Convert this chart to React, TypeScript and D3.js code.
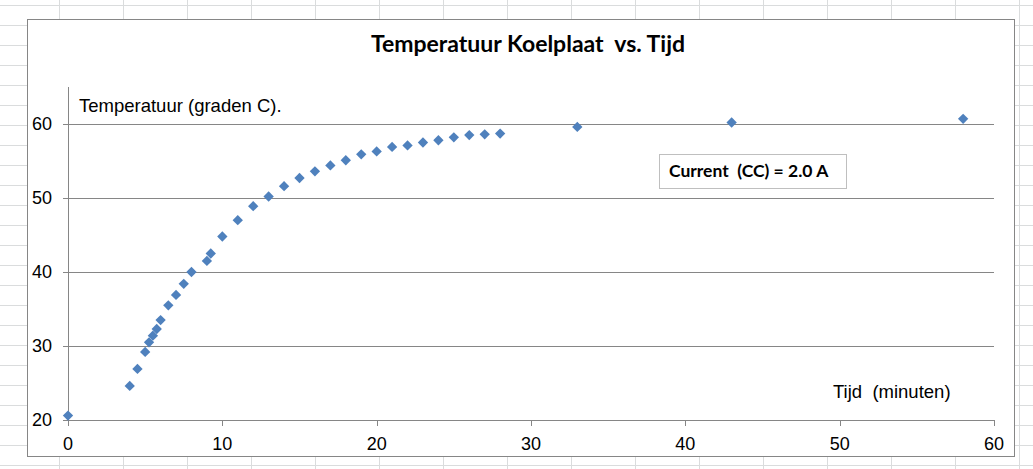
import * as React from "react";
import * as d3 from "d3";

// meetpunten: tijd (minuten) en temperatuur (graden C)
const tijd = [0, 4, 4.5, 5, 5.25, 5.5, 5.75, 6, 6.5, 7, 7.5, 8, 9, 9.25, 10,
    11, 12, 13, 14, 15, 16, 17, 18, 19, 20, 21, 22, 23, 24, 25, 26, 27, 28,
    33, 43, 58];
const temperatuur = [20.6, 24.6, 26.9, 29.2, 30.5, 31.4, 32.3, 33.5, 35.5, 36.9, 38.4, 40.0, 41.5, 42.5, 44.8,
    47.0, 48.9, 50.2, 51.6, 52.7, 53.6, 54.4, 55.1, 55.9, 56.3, 56.9, 57.1, 57.5, 57.8, 58.2, 58.5, 58.6, 58.7,
    59.6, 60.2, 60.7];
const xTicks = [0, 10, 20, 30, 40, 50, 60];
const yTicks = [20, 30, 40, 50, 60];

const title = "Temperatuur Koelplaat\u00a0 vs. Tijd";
const yTitle = "Temperatuur (graden C).";
const xTitle = "Tijd\u00a0 (minuten)";
const note = "Current\u00a0 (CC) = 2.0 A";

const W = 1033, H = 469;
const frame = { x0: 27.5, y0: 19.5, x1: 1014.5, y1: 456.5 };
const plot = { left: 68, right: 994, top: 87, bottom: 420 };

const axisColor = "#868686";
const markerColor = "#4f81bd";
const sheetGrid = "#dadcdd";

class App extends React.Component<{}, {}> {
    render() {
        const x = d3.scaleLinear().domain([0, 60]).range([plot.left, plot.right]);
        const y = d3.scaleLinear().domain([20, 65]).range([plot.bottom, plot.top]);
        const diamond = d3.symbol().type(d3.symbolDiamond2).size(68)();
        const points = tijd.map((t, i) => ({ t, v: temperatuur[i] }));

        // achtergrond: rasterlijnen van het werkblad
        const cols = d3.range(59.5, W, 64);
        const rows = d3.range(5.5, H, 20);

        return (
            <svg width={W} height={H} style={{ position: "absolute", left: 0, top: 0, background: "#fff" }}>
                <g stroke={sheetGrid} strokeWidth={1}>
                    {cols.map(c => <line key={"c" + c} x1={c} x2={c} y1={0} y2={H} />)}
                    {rows.map(r => <line key={"r" + r} x1={0} x2={W} y1={r} y2={r} />)}
                </g>
                <rect x={frame.x0} y={frame.y0} width={frame.x1 - frame.x0} height={frame.y1 - frame.y0}
                    fill="#fff" stroke={axisColor} strokeWidth={1} />

                <text x={528} y={52} textAnchor="middle" fontFamily="Lato" fontWeight="bold" fontSize={23} fill="#000">{title}</text>

                {/* y raster + ticks */}
                <g stroke={axisColor} strokeWidth={1}>
                    {yTicks.map(v => (
                        <line key={v} x1={plot.left - 5} x2={plot.right} y1={Math.round(y(v)) + 0.5} y2={Math.round(y(v)) + 0.5} />
                    ))}
                    <line x1={plot.left + 0.5} x2={plot.left + 0.5} y1={plot.top} y2={plot.bottom + 5} />
                    {xTicks.map(v => (
                        <line key={v} x1={Math.round(x(v)) + 0.5} x2={Math.round(x(v)) + 0.5} y1={plot.bottom} y2={plot.bottom + 6} />
                    ))}
                </g>
                <g fontFamily="Liberation Sans, Arial" fontSize={18} fill="#000">
                    {yTicks.map(v => (
                        <text key={v} x={52} y={y(v)} dy="0.35em" textAnchor="end">{v}</text>
                    ))}
                    {xTicks.map(v => (
                        <text key={v} x={x(v)} y={450} textAnchor="middle">{v}</text>
                    ))}
                </g>
                <g fontFamily="Liberation Sans, Arial" fontSize={18.5} fill="#000">
                    <text x={79} y={112}>{yTitle}</text>
                    <text x={833} y={398}>{xTitle}</text>
                </g>

                <rect x={659.5} y={154.5} width={187} height={34} fill="#fff" stroke="#bfbfbf" strokeWidth={1} />
                <text x={669} y={177} fontFamily="Lato" fontWeight="bold" fontSize={17.5} fill="#000">{note}</text>

                <g fill={markerColor}>
                    {points.map((d, i) => (
                        <path key={i} d={diamond} transform={`translate(${x(d.t)},${y(d.v)})`} />
                    ))}
                </g>
            </svg>
        );
    }
}

export default App;
